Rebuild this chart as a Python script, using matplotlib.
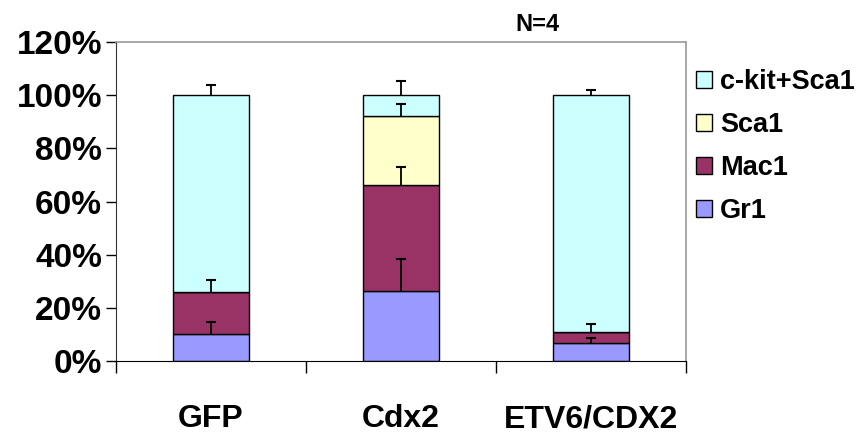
import matplotlib
matplotlib.use("Agg")
import matplotlib.pyplot as plt
import numpy as np

plt.rcParams["font.family"] = ["Liberation Sans", "DejaVu Sans"]
plt.rcParams["font.weight"] = "bold"

groups = ["GFP", "Cdx2", "ETV6/CDX2"]
series = ["Gr1", "Mac1", "Sca1", "c-kit+Sca1"]
colors = ["#9999FF", "#993366", "#FFFFCC", "#CCFFFF"]

gr1 = [10.2, 26.4, 6.6]
mac1 = [15.8, 39.8, 4.4]
sca1 = [0.0, 26.0, 0.0]
ckit = [74.0, 7.8, 89.0]

gr1_err = [4.6, 11.8, 2.1]
mac1_err = [4.5, 6.6, 2.9]
sca1_err = [0.0, 4.5, 0.0]
ckit_err = [4.0, 5.4, 2.0]

values = [gr1, mac1, sca1, ckit]
errors = [gr1_err, mac1_err, sca1_err, ckit_err]

fig = plt.figure(figsize=(8.62, 4.34), dpi=100)
ax = fig.add_axes([0.1346, 0.1682, 0.7958 - 0.1346, 0.9032 - 0.1682])

x = np.arange(len(groups))
bottom = np.zeros(len(groups))
handles = []
for name, vals, errs, col in zip(series, values, errors, colors):
    vals = np.array(vals)
    h = ax.bar(x, vals, width=0.395, bottom=bottom, color=col,
               edgecolor="black", linewidth=1.0, label=name, zorder=2)
    handles.append(h)
    top = bottom + vals
    errs = np.array(errs)
    mask = errs > 0
    # upper-only error bars, cap on top end only
    ax.vlines(x[mask], top[mask], top[mask] + errs[mask],
              color="black", linewidth=1.3, zorder=3)
    ax.plot(x[mask], top[mask] + errs[mask], linestyle="none", marker="_",
            markersize=7, markeredgewidth=1.5, color="black", zorder=3)
    bottom = top

ax.set_xlim(-0.5, 2.5)
ax.set_ylim(0, 120)
ax.set_yticks(np.arange(0, 121, 20))
ax.set_yticklabels([f"{v}%" for v in range(0, 121, 20)],
                   fontsize=24, fontweight="bold")
ax.tick_params(axis="y", direction="out", length=7, width=1, pad=3)

ax.set_xticks(x)
ax.set_xticklabels(groups, fontsize=23, fontweight="bold")
ax.tick_params(axis="x", which="major", length=0, pad=31)
ax.set_xticks([-0.5, 0.5, 1.5, 2.5], minor=True)
ax.tick_params(axis="x", which="minor", direction="out", length=8.5, width=1)

for side in ["top", "right"]:
    ax.spines[side].set_color("#999999")
    ax.spines[side].set_linewidth(1.2)
ax.spines["left"].set_color("#333333")
ax.spines["bottom"].set_color("black")

leg = fig.legend(handles[::-1], series[::-1], loc="upper left",
                 bbox_to_anchor=(0.8074, 0.840), frameon=False,
                 borderpad=0, borderaxespad=0,
                 prop=dict(weight="bold", size=19.5),
                 handlelength=0.59, handleheight=0.59,
                 handletextpad=0.3, labelspacing=0.62)

fig.text(0.623, 0.943, "N=4", ha="center", va="center",
         fontsize=17, fontweight="bold")

fig.savefig("out.png", dpi=100)
